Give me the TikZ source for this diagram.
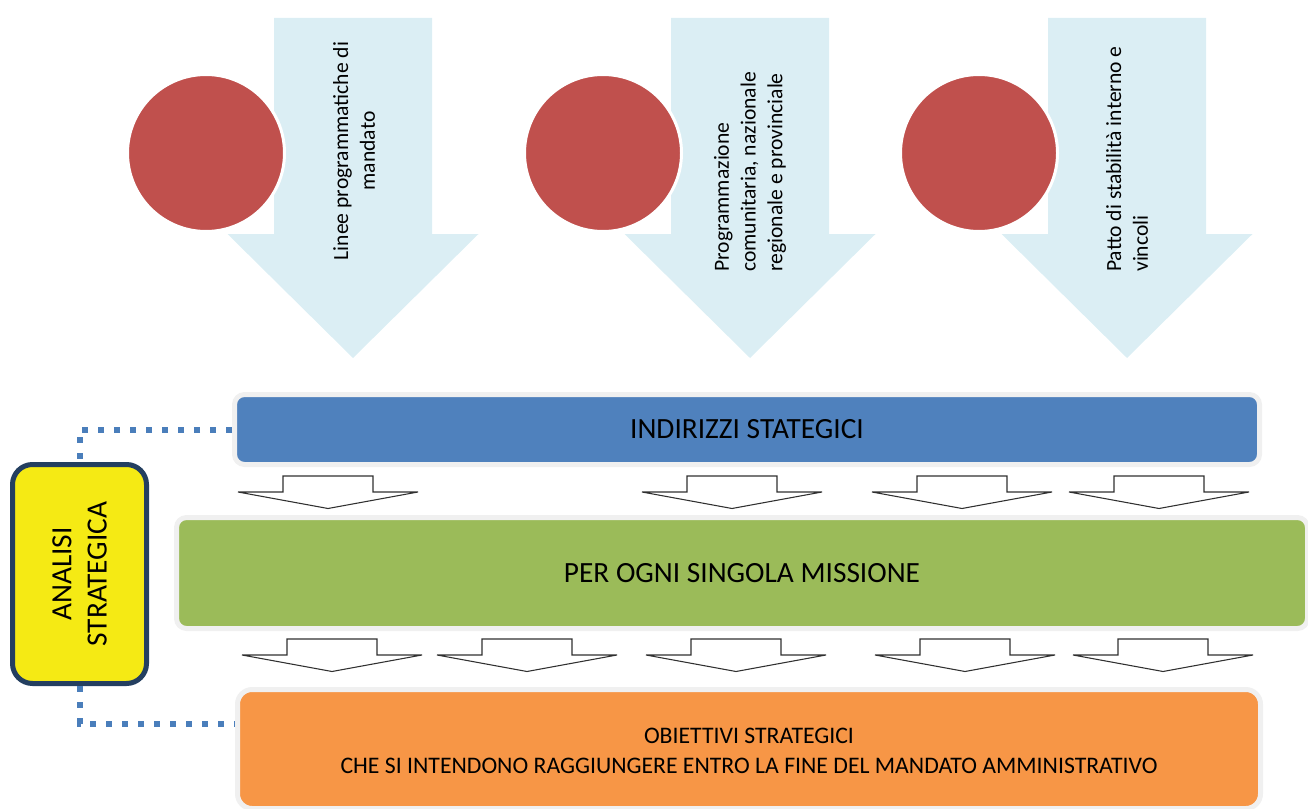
\documentclass[tikz,border=0pt]{standalone}
\usepackage{fontspec}
\setmainfont{Carlito}
\usetikzlibrary{calc,fit}
\definecolor{circred}{HTML}{C0504D}
\definecolor{arrowblue}{HTML}{DBEEF4}
\definecolor{boxblue}{HTML}{4F81BD}
\definecolor{boxgreen}{HTML}{9BBB59}
\definecolor{boxorange}{HTML}{F79646}
\definecolor{boxyellow}{HTML}{F5EA14}
\definecolor{darknavy}{HTML}{243F60}
\definecolor{framegray}{HTML}{F0F0F0}
\definecolor{dotblue}{HTML}{4A7EBB}
\definecolor{arrowline}{HTML}{303030}
\begin{document}
\begin{tikzpicture}[x=0.75pt,y=-0.75pt,
  bigarrow/.pic={\fill[arrowblue] (-79,0) -- (79,0) -- (79,216) -- (125.5,216) -- (0,340) -- (-125.5,216) -- (-79,216) -- cycle;},
  smallarrow/.pic={\draw[arrowline, line width=0.8pt, fill=white, line join=miter] (-45,0) -- (45,0) -- (45,16) -- (90,16) -- (0,32.5) -- (-90,16) -- (-45,16) -- cycle;},
  circ/.style={circle, fill=circred, draw=white, line width=2.25pt, minimum size=117.75pt, inner sep=0pt},
  arrowtext/.style={rotate=90, inner sep=0pt, font=\fontsize{16.2}{20}\selectfont},
  panel/.style={draw=framegray, line width=3.75pt, rounded corners=7.5pt, inner sep=0pt},
  bigtext/.style={font=\fontsize{22}{26.5}\selectfont},
  dotline/.style={draw=dotblue, line width=4.5pt, dash pattern=on 4.5pt off 7.5pt},
]
\useasboundingbox (0,0) rectangle (1308,809);

% top arrows
\pic at (353,18) {bigarrow};
\pic at (750,18) {bigarrow};
\pic at (1127,18) {bigarrow};

% circles
\node[circ] (c1) at (206,153) {};
\node[circ] (c2) at (603,153) {};
\node[circ] (c3) at (979,153) {};

% arrow texts
\node[arrowtext, align=center] (t1) at (354,151) {Linee programmatiche di\\mandato};
\node[arrowtext, align=left, anchor=west] (t2) at (750,272) {Programmazione\\comunitaria, nazionale\\regionale e provinciale};
\node[arrowtext, align=left, anchor=west] (t3) at (1127,272) {Patto di stabilità interno e\\vincoli};

% main boxes
\node[panel, fill=boxblue, fit={(234.5,394.5) (1259.5,464.5)}] (blue) {};
\node[bigtext] (bluetext) at (blue.center) {INDIRIZZI STATEGICI};
\node[panel, fill=boxgreen, fit={(176.5,517.5) (1307.5,628.5)}] (green) {};
\node[bigtext] (greentext) at (green.center) {PER OGNI SINGOLA MISSIONE};
\node[panel, fill=boxorange, rounded corners=11pt, fit={(237.5,689.5) (1260.5,808.5)}] (orange) {};
\node[align=center, font=\fontsize{17.8}{22.5}\selectfont] (orangetext) at ($(orange.center)+(0,2)$) {OBIETTIVI STRATEGICI\\CHE SI INTENDONO RAGGIUNGERE ENTRO LA FINE DEL MANDATO AMMINISTRATIVO};

% yellow box
\node[draw=darknavy, fill=boxyellow, line width=3.75pt, rounded corners=15pt, inner sep=0pt, fit={(12.5,464.5) (146.5,683.5)}] (yellow) {};
\node[rotate=90, align=center, bigtext] (ytext) at (yellow.center) {ANALISI\\STRATEGICA};

% dotted connectors
\draw[dotline] (blue.west) -| (yellow.north);
\draw[dotline] (yellow.south) |- ($(orange.north west)+(0,36.5)$);

% small arrows row 1
\pic at (328,476) {smallarrow};
\pic at (732,476) {smallarrow};
\pic at (962,476) {smallarrow};
\pic at (1159,476) {smallarrow};

% small arrows row 2
\pic at (332,639) {smallarrow};
\pic at (527,639) {smallarrow};
\pic at (736,639) {smallarrow};
\pic at (965,639) {smallarrow};
\pic at (1163,639) {smallarrow};
\end{tikzpicture}
\end{document}
